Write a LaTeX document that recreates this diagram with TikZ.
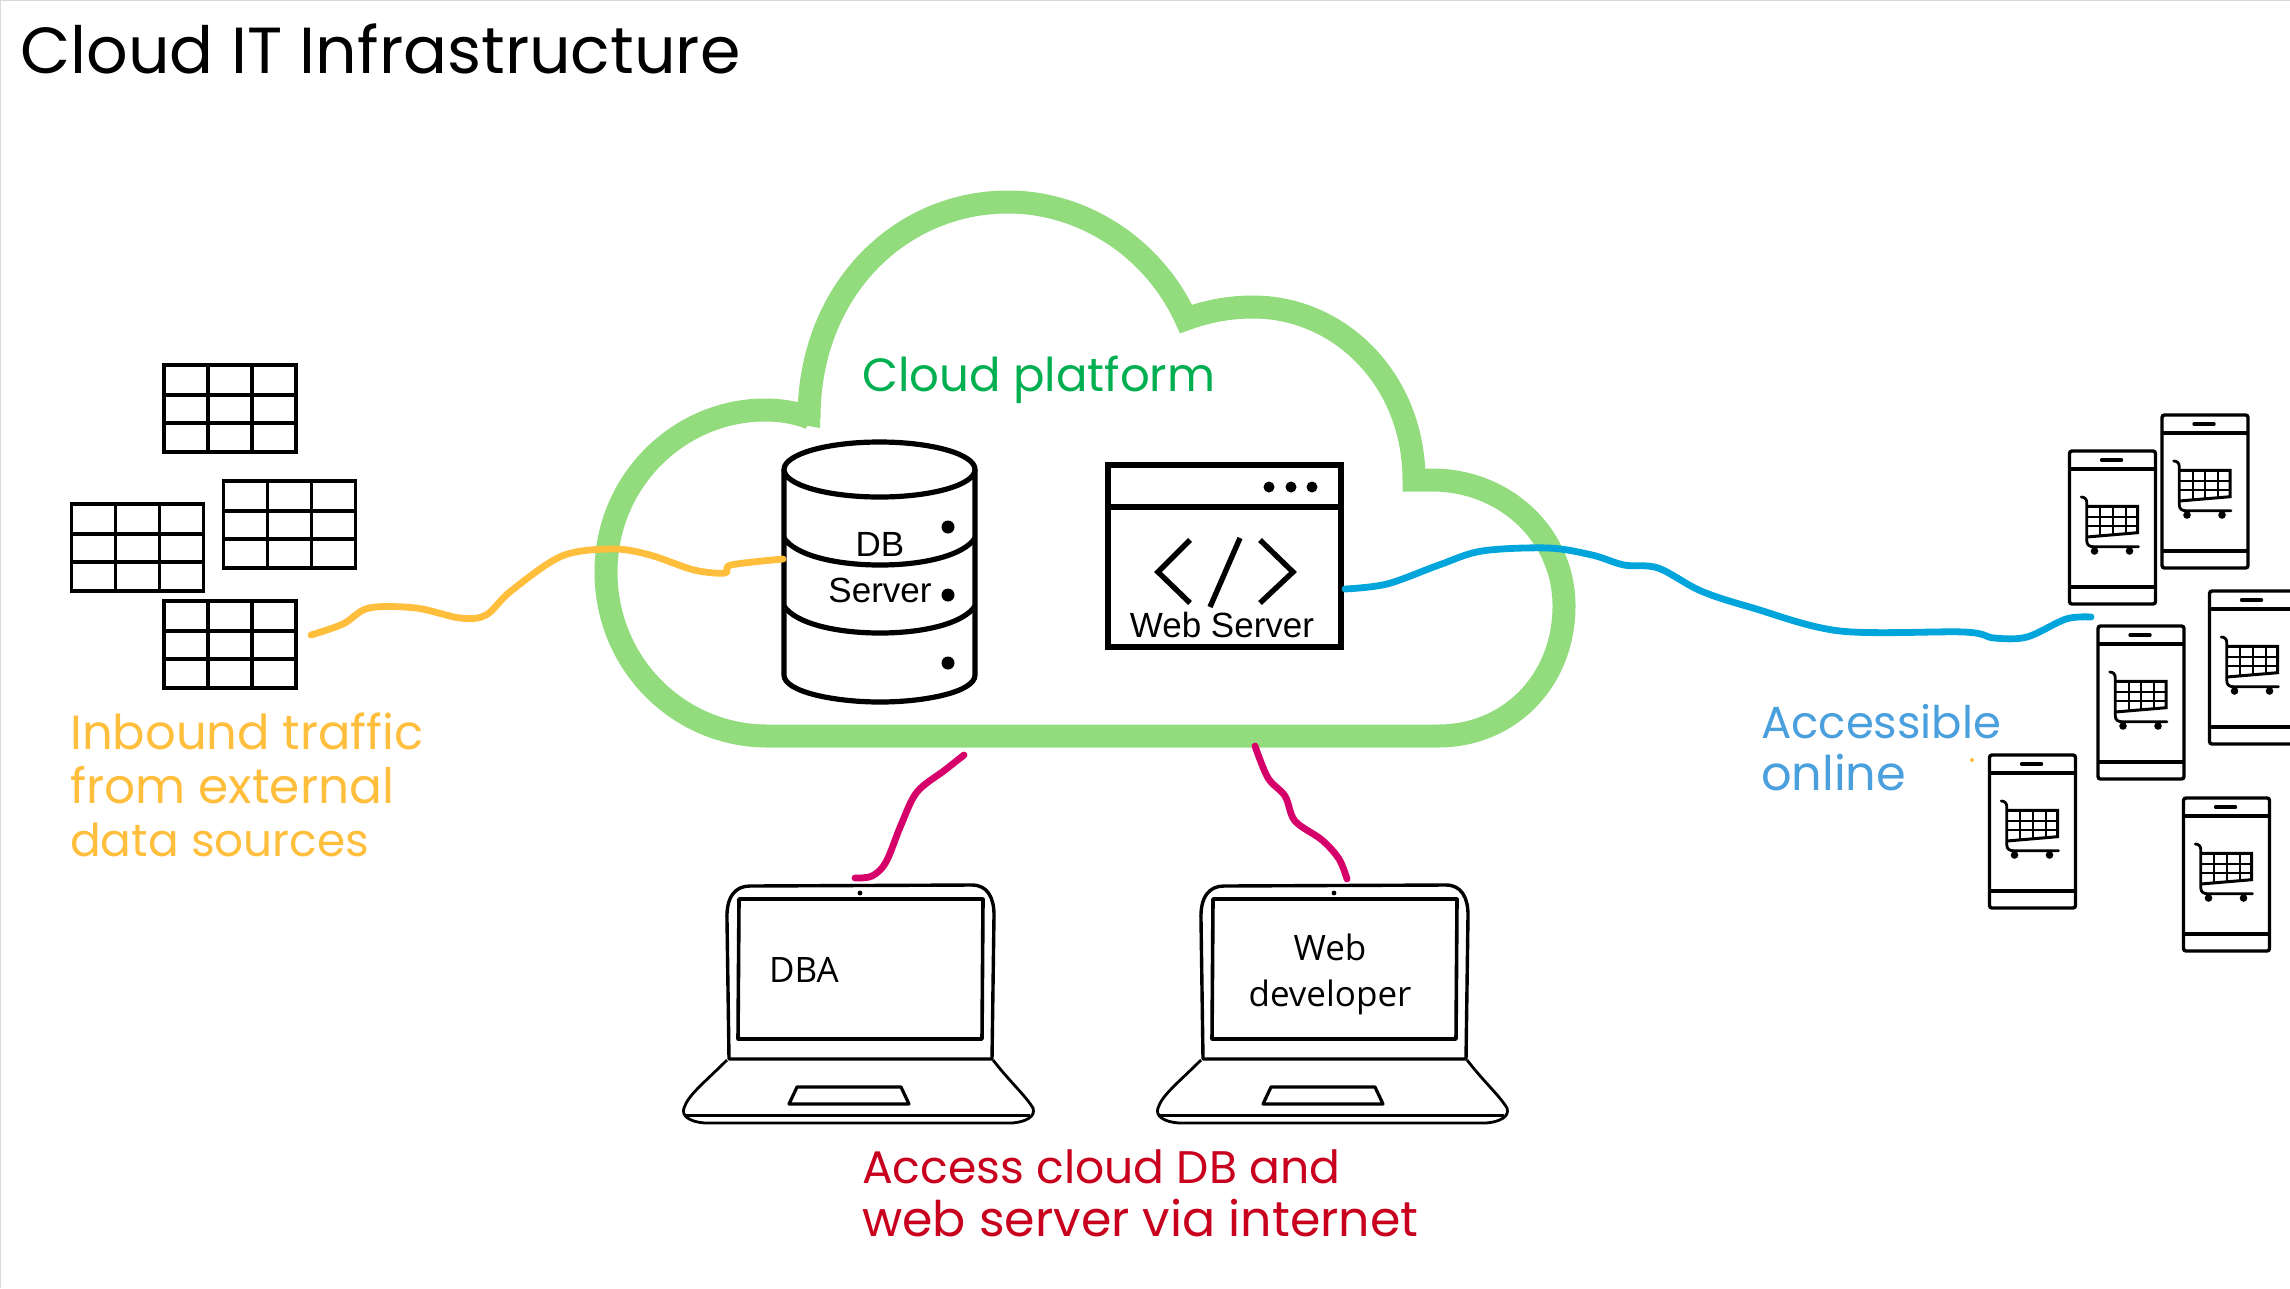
\documentclass[tikz,border=0pt]{standalone}
\usepackage{fontspec}
\usepackage{graphicx}
\setmainfont{Open Sans}
\newfontfamily\hand{Poppins}
\newfontfamily\iconsans{Liberation Sans}
\definecolor{cloudgreen}{HTML}{92DC7E}
\definecolor{labelgreen}{HTML}{00B050}
\definecolor{flowyellow}{HTML}{FFBE3C}
\definecolor{flowblue}{HTML}{00A5DC}
\definecolor{flowpink}{HTML}{D5006A}
\definecolor{labelblue}{HTML}{4A9FDD}
\definecolor{labelred}{HTML}{C8001E}
\newcommand{\handline}[2]{\resizebox{#1pt}{!}{\hand #2}}
\tikzset{
  x=1pt,y=-1pt,
  handlabel/.style={inner sep=0pt,anchor=base west},
  iconfont/.style={inner sep=0pt,anchor=base,font=\fontsize{35}{40}\selectfont\iconsans},
  pcfont/.style={inner sep=0pt,anchor=base,font=\fontsize{35}{40}\selectfont},
  flow/.style={line width=6.8pt,line cap=round,line join=round},
  datatable/.pic={
    \draw[line width=3.6pt,line join=miter] (0,0) rectangle (132,87);
    \draw[line width=3.6pt] (44,0) -- (44,87) (88,0) -- (88,87) (0,30) -- (132,30) (0,58) -- (132,58);
  },
  phone/.pic={
    \draw[line width=3.4pt,rounded corners=2.5pt] (0,0) rectangle (86,153);
    \draw[line width=3.4pt] (0,18) -- (86,18) (0,136) -- (86,136);
    \draw[line width=3.4pt,line cap=round] (32,9) -- (52,9);
    \draw[line width=2.8pt,line cap=round] (11.7,46) .. controls (15,46) and (17.3,48) .. (17.3,52) -- (17.3,90) .. controls (17.3,94) and (20,95.7) .. (24,95.7) -- (69,95.7);
    \draw[line width=3pt,line join=miter] (17.3,55.3) -- (68,55.3) -- (68,81.7) -- (17.3,86);
    \draw[line width=2pt] (30.7,55.3) -- (30.7,85) (43.3,55.3) -- (43.3,84) (56,55.3) -- (56,83) (17.3,65.7) -- (68,65.7) (17.3,75) -- (68,75);
    \fill (25,100) circle[radius=3.8pt] (60,100) circle[radius=3.8pt];
  },
  laptop/.pic={
    \draw[line width=3.4pt,line join=round] (729,1059) -- (727,920) .. controls (726,897) and (735,886) .. (750,886) -- (972,885) .. controls (987,885) and (994,897) .. (994,915) -- (992,1059) -- cycle;
    \draw[line width=3.6pt,line join=round] (739,899) -- (983,899) -- (982,1039) -- (738,1039) -- cycle;
    \fill (860,893) circle[radius=2.4pt];
    \draw[line width=2.8pt,line join=round] (727,1060) .. controls (705,1082) and (688,1095) .. (684,1108) .. controls (681,1116) and (690,1122) .. (705,1123) -- (1012,1123) .. controls (1025,1122) and (1036,1117) .. (1033,1108) .. controls (1025,1095) and (1010,1082) .. (993,1060);
    \draw[line width=3pt] (686,1115) -- (1030,1115);
    \draw[line width=3.2pt,line join=round] (797,1087) -- (901,1087) -- (909,1104) -- (789,1104) -- cycle;
  }
}
\begin{document}
\begin{tikzpicture}
\useasboundingbox (0,0) rectangle (2290,1288);
\fill[white] (0,0) rectangle (2290,1288);
\clip (0,0) rectangle (2290,1288);
\draw[black!15,line width=2pt] (0,1288) -- (0,0) -- (2290,0);

% cloud
\draw[cloudgreen,line width=23pt,line join=miter,miter limit=3]
  (810,418) .. controls (800,414) and (785,410) .. (765,410)
  .. controls (680,410) and (606,480) .. (606,572)
  .. controls (606,665) and (680,736) .. (767,736)
  -- (1438,736)
  .. controls (1510,736) and (1564,680) .. (1564,606)
  .. controls (1564,535) and (1505,480) .. (1432,480)
  -- (1414,480)
  .. controls (1414,380) and (1340,307) .. (1253,307)
  .. controls (1230,307) and (1208,311) .. (1186,319)
  .. controls (1155,250) and (1085,202) .. (1008,202)
  .. controls (900,202) and (809,290) .. (809,418);
\fill[cloudgreen] (798,402) -- (820,402) -- (820,428) -- (798,424) -- cycle;

% tables
\pic at (164,365) {datatable};
\pic at (71.5,504) {datatable};
\pic at (223.5,481) {datatable};
\pic at (164,601) {datatable};

% database
\draw[line width=5.2pt] (784,469.5) -- (784,675) .. controls (784,692) and (835,702) .. (880,702) .. controls (925,702) and (975,692) .. (975,675) -- (975,469.5);
\draw[line width=5.2pt] (879.5,469.5) ellipse[x radius=95.5pt,y radius=27.5pt];
\draw[line width=5.2pt] (784,538) .. controls (795,555) and (835,565) .. (880,565) .. controls (925,565) and (964,555) .. (975,538);
\draw[line width=5.2pt] (784,606) .. controls (795,623) and (835,633) .. (880,633) .. controls (925,633) and (964,623) .. (975,606);
\fill (948,527) circle[radius=6.5pt] (948,595) circle[radius=6.5pt] (948,663) circle[radius=6.5pt];
\node[iconfont] (dbone) at (880,556) {DB};
\node[iconfont] (dbtwo) at (880,602) {Server};

% web server
\draw[line width=5.5pt,line join=miter] (1108,465) rectangle (1341,647);
\draw[line width=5.5pt] (1108,507) -- (1341,507);
\fill (1269,487) circle[radius=5.5pt] (1291,487) circle[radius=5.5pt] (1312,487) circle[radius=5.5pt];
\draw[line width=5.4pt,line join=miter] (1190,540) -- (1158,572) -- (1190,603);
\draw[line width=5.4pt] (1240,538) -- (1210,607);
\draw[line width=5.4pt,line join=miter] (1260,540) -- (1293,572) -- (1260,603);
\node[iconfont] (webtext) at (1222,637) {Web Server};

% phones
\pic at (2069.5,451) {phone};
\pic at (2162,415) {phone};
\pic at (2098,626) {phone};
\pic at (2209.5,591) {phone};
\pic at (1989.5,755) {phone};
\pic at (2183.5,798) {phone};

% laptops
\pic at (0,0) {laptop};
\pic at (474,0) {laptop};
\node[pcfont,anchor=base west] (dba) at (769,982) {DBA};
\node[pcfont] (webdev) at (1330,960) {Web};
\node[pcfont] (webdevb) at (1330,1006) {developer};

% connector ends
\coordinate (tableend) at (311,635);
\coordinate (dbwest) at (783,559);
\coordinate (webeast) at (1345,589);
\coordinate (phoneend) at (2091,617);
\coordinate (cloudone) at (964,755);
\coordinate (laptopone) at (855,878);
\coordinate (cloudtwo) at (1255,746);
\coordinate (laptoptwo) at (1347,879);

\draw[flow,flowyellow] plot[smooth,tension=0.55] coordinates {(tableend) (343,624) (369,608) (416,608) (460,618) (486,615) (511,591) (562,556) (613,549) (650,555) (694,570) (725,573) (731,565) (dbwest)};
\draw[flow,flowblue] plot[smooth,tension=0.55] coordinates {(webeast) (1387,584) (1439,565) (1482,551) (1548,548) (1592,555) (1624,565) (1658,568) (1701,591) (1753,608) (1840,631) (1964,632) (1994,638) (2027,637) (2066,619) (phoneend)};
\draw[flow,flowpink] plot[smooth,tension=0.55] coordinates {(cloudone) (945,770) (917,792) (901,825) (886,862) (872,876) (laptopone)};
\draw[flow,flowpink] plot[smooth,tension=0.55] coordinates {(cloudtwo) (1268,778) (1285,796) (1295,821) (1322,840) (1339,859) (laptoptwo)};
\fill[flowyellow] (1972,760) circle[radius=2pt];

% labels
\node[handlabel] (title) at (20,73) {\handline{720}{Cloud IT Infrastructure}};
\node[handlabel,labelgreen] (cloudlabel) at (862,391) {\handline{353}{Cloud platform}};
\node[handlabel,flowyellow] (inone) at (70,749) {\handline{353}{Inbound traffic}};
\node[handlabel,flowyellow] (intwo) at (70,803) {\handline{324}{from external}};
\node[handlabel,flowyellow] (inthree) at (70,856) {\handline{299}{data sources}};
\node[handlabel,labelblue] (onlineone) at (1761,738) {\handline{240}{Accessible}};
\node[handlabel,labelblue] (onlinetwo) at (1761,790) {\handline{145}{online}};
\node[handlabel,labelred] (accessone) at (862,1183) {\handline{478}{Access cloud DB and}};
\node[handlabel,labelred] (accesstwo) at (862,1236) {\handline{556}{web server via internet}};
\end{tikzpicture}
\end{document}
